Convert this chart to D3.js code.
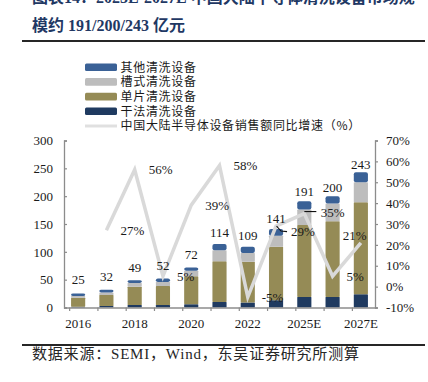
<!DOCTYPE html>
<html><head><meta charset="utf-8">
<script src="https://cdn.jsdelivr.net/npm/d3@7"></script>
<style>
html,body{margin:0;padding:0;background:#fff;}
svg{display:block;}
</style></head>
<body>
<svg id="c" width="428" height="382"></svg>
<script>
// ---- data ----
const categories = ["2016","2017","2018","2019","2020","2021","2022","2024","2025E","2026E","2027E"];
const xTickLabels = ["2016","2018","2020","2022","2025E","2027E"];
const dryClean    = [1.5, 2.5, 4.5, 4.5, 6, 10, 9, 13, 19, 19, 24];      // 干法清洗设备
const singleWafer = [16, 20, 33, 34, 50, 73, 73, 96, 129, 136, 165];     // 单片清洗设备
const batchClean  = [3, 4.5, 6.5, 7.5, 10, 20, 16, 20, 28, 32, 36];      // 槽式清洗设备
const otherClean  = [4.5, 5, 5, 6, 6, 11, 11, 12, 15, 13, 18];           // 其他清洗设备
const totals      = [25, 32, 49, 52, 72, 114, 109, 141, 191, 200, 243];
const growth      = [null, 27, 56, 5, 39, 58, -5, 29, 35, 5, 21];         // 同比增速 %
const leftTicks   = [0, 50, 100, 150, 200, 250, 300];
const rightTicks  = [-10, 0, 10, 20, 30, 40, 50, 60, 70];
const seriesNames = ["其他清洗设备","槽式清洗设备","单片清洗设备","干法清洗设备"];
const lineName    = "中国大陆半导体设备销售额同比增速（%）";
const titleLine1  = "图表14：2025E-2027E 中国大陆半导体清洗设备市场规";
const titleLine2  = "模约 191/200/243 亿元";
const sourceText  = "数据来源：SEMI，Wind，东吴证券研究所测算";

(function () {
// ---- styles ----
const colors = {dry:"#1f3a60", single:"#958b56", batch:"#bdbdbd", other:"#3a6196", line:"#d9d9d9"};
const serif = "'Liberation Serif','Times New Roman','Noto Sans CJK SC',serif";
const cjk = "'Noto Sans CJK SC','Liberation Serif',sans-serif";

const svg = d3.select("#c");

// title
svg.append("text").attr("x",32).attr("y",2.5).attr("font-family",serif).attr("font-weight","bold")
  .attr("font-size",16).attr("fill","#1f3864").text(titleLine1);
svg.append("text").attr("x",32).attr("y",30.5).attr("font-family",serif).attr("font-weight","bold")
  .attr("font-size",16).attr("fill","#1f3864").text(titleLine2);
svg.append("rect").attr("x",22).attr("y",40).attr("width",403).attr("height",2).attr("fill","#262626");
svg.append("rect").attr("x",22).attr("y",344).attr("width",403).attr("height",2).attr("fill","#262626");
svg.append("text").attr("x",32).attr("y",358.5).attr("font-family",serif)
  .attr("font-size",15).attr("letter-spacing",0.8).attr("fill","#262626").text(sourceText);

// scales
const pL = 64, pR = 375, pT = 140.5, pB = 307.5;
const x = d3.scaleBand().domain(categories).range([pL, pR]).paddingInner(0.5).paddingOuter(0.25);
const y = d3.scaleLinear().domain([0, 300]).range([pB, pT]);
const y2 = d3.scaleLinear().domain([-10, 70]).range([pB, pT]);
const cx = c => x(c) + x.bandwidth() / 2;

// stacked bars
const rows = categories.map((c, i) => ({cat: c, dry: dryClean[i], single: singleWafer[i], batch: batchClean[i], other: otherClean[i]}));
const keys = ["dry", "single", "batch", "other"];
const stack = d3.stack().keys(keys)(rows);
const barG = svg.append("g");
stack.forEach(layer => {
  barG.selectAll(null).data(layer).enter().append("rect")
    .attr("x", d => x(d.data.cat))
    .attr("width", x.bandwidth())
    .attr("y", d => y(d[1]))
    .attr("height", d => Math.max(0, y(d[0]) - y(d[1])))
    .attr("rx", layer.key === "other" ? 2 : 0.6)
    .attr("fill", colors[layer.key]);
});

// axes
const axisColor = "#8c8c8c";
const gL = svg.append("g").attr("transform", `translate(${pL},0)`)
  .call(d3.axisLeft(y).tickValues(leftTicks).tickSize(-3).tickPadding(11));
const gR = svg.append("g").attr("transform", `translate(${pR},0)`)
  .call(d3.axisRight(y2).tickValues(rightTicks).tickSize(3).tickPadding(8).tickFormat(d => d + "%"));
const gB = svg.append("g").attr("transform", `translate(0,${pB})`)
  .call(d3.axisBottom(x).tickValues(xTickLabels).tickSize(0).tickPadding(11));
[gL, gR, gB].forEach(g => {
  g.select(".domain").attr("stroke", axisColor).attr("stroke-width", 1.3);
  g.selectAll(".tick line").attr("stroke", axisColor).attr("stroke-width", 1.2);
  g.selectAll("text").attr("font-family", serif).attr("font-size", 13).attr("fill", "#1a1a1a");
});
gB.select(".domain").attr("d", `M${pL},0.5H${pR + 2}`);
// category separator ticks on the x axis
gB.selectAll(".sep").data(categories).enter().append("line")
  .attr("x1", c => cx(c) - x.step() * 0.3).attr("x2", c => cx(c) - x.step() * 0.3)
  .attr("y1", 0).attr("y2", 3.5).attr("stroke", axisColor).attr("stroke-width", 1.2);

// growth line
const pts = categories.map((c, i) => ({cat: c, v: growth[i]}));
svg.append("path").datum(pts)
  .attr("fill", "none").attr("stroke", colors.line).attr("stroke-width", 3.5)
  .attr("stroke-linejoin", "miter").attr("stroke-miterlimit", 10)
  .attr("d", d3.line().defined(d => d.v != null).x(d => cx(d.cat)).y(d => y2(d.v)));

// total labels
svg.append("g").selectAll("text").data(categories).enter().append("text")
  .attr("x", c => cx(c))
  .attr("y", (c, i) => y(totals[i] * 0.95) - 10)
  .attr("text-anchor", "middle").attr("font-family", serif).attr("font-size", 13).attr("fill", "#1a1a1a")
  .text((c, i) => totals[i]);

// growth labels (layout offsets relative to point)
const labelDx = {"2024": 15, "2025E": 16.5, "2027E": -18};
const labelDy = {"2024": 5, "2025E": -1, "2027E": -7};
const gl = svg.append("g");
pts.filter(d => d.v != null).forEach(d => {
  const px = cx(d.cat), py = y2(d.v);
  const dx = labelDx[d.cat] != null ? labelDx[d.cat] : 14;
  const dy = labelDy[d.cat] != null ? labelDy[d.cat] : 0;
  gl.append("text").attr("x", px + dx).attr("y", py + dy + 4.6)
    .attr("font-family", serif).attr("font-size", 13).attr("fill", "#1a1a1a").text(d.v + "%");
  if (d.cat === "2024") {
    gl.append("path").attr("fill", "none").attr("stroke", "#111").attr("stroke-width", 1.1)
      .attr("d", `M${px + 0.5},${py}L${px + 5},${py + 5}L${px + 11},${py + 5.5}`);
  }
  if (d.cat === "2025E") {
    gl.append("path").attr("fill", "none").attr("stroke", "#111").attr("stroke-width", 1.1)
      .attr("d", `M${px},${py - 2}H${px + 12}`);
  }
});

// legend
const lg = svg.append("g");
const legendColors = [colors.other, colors.batch, colors.single, colors.dry];
seriesNames.forEach((n, i) => {
  const cy = 67.2 + i * 14.7;
  lg.append("rect").attr("x", 85).attr("y", cy - 3.8).attr("width", 32).attr("height", 7.6)
    .attr("rx", 1.5).attr("fill", legendColors[i]);
  lg.append("text").attr("x", 120.5).attr("y", cy + 4.3).attr("font-family", cjk)
    .attr("font-size", 12).attr("letter-spacing", 0.7).attr("fill", "#1a1a1a").text(n);
});
{
  const cy = 67.2 + 4 * 14.7;
  lg.append("line").attr("x1", 85).attr("x2", 117).attr("y1", cy).attr("y2", cy)
    .attr("stroke", "#e0e0e0").attr("stroke-width", 3);
  lg.append("text").attr("x", 120.5).attr("y", cy + 4.3).attr("font-family", cjk)
    .attr("font-size", 12).attr("letter-spacing", 0.7).attr("fill", "#1a1a1a").text(lineName);
}
})();
</script>
</body></html>
